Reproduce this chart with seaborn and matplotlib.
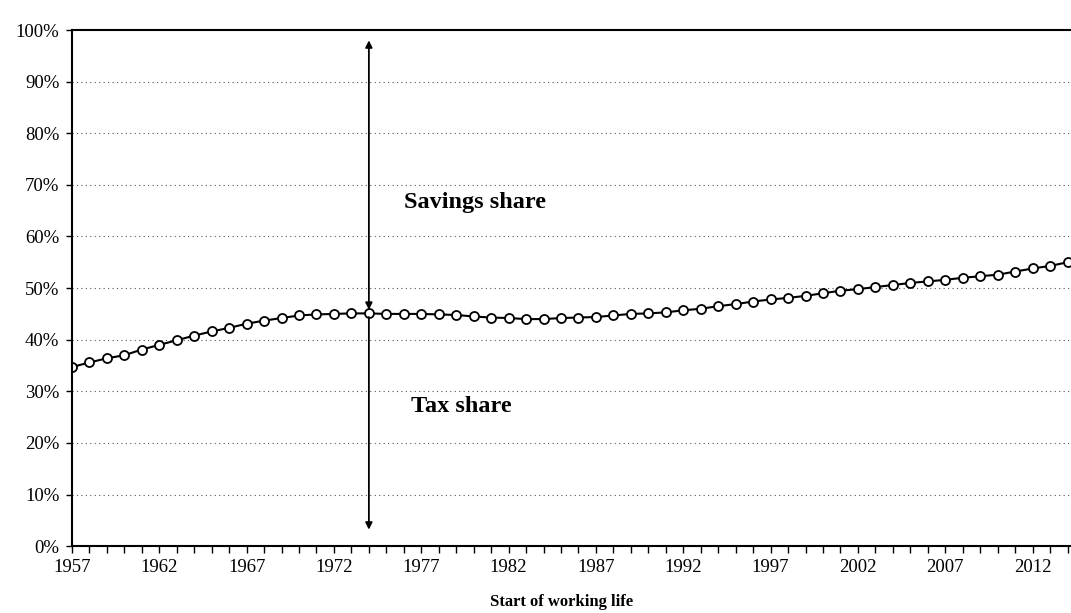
import matplotlib.pyplot as plt
import numpy as np
import pandas as pd
import seaborn as sns

years = list(range(1957, 2015))
tax_share = [
    34.7, 35.6, 36.4, 37.0, 38.1, 39.0, 39.9, 40.8, 41.6, 42.3,
    43.1, 43.7, 44.2, 44.7, 44.9, 45.0, 45.1, 45.1, 45.0, 45.0,
    45.0, 44.9, 44.8, 44.5, 44.3, 44.2, 44.0, 44.0, 44.2, 44.3,
    44.4, 44.7, 45.0, 45.1, 45.3, 45.7, 46.0, 46.5, 46.9, 47.4,
    47.8, 48.1, 48.5, 49.0, 49.5, 49.8, 50.2, 50.6, 51.0, 51.3,
    51.6, 52.0, 52.3, 52.6, 53.2, 53.8, 54.3, 55.0,
]
y_ticks = list(range(0, 101, 10))
x_tick_years = list(range(1957, 2015, 5))

df = pd.DataFrame({"year": years, "share": tax_share})

sns.set_style("white")
plt.rcParams["font.family"] = ["Liberation Serif", "DejaVu Serif"]
plt.rcParams["text.color"] = "black"
plt.rcParams["axes.labelcolor"] = "black"

fig = plt.figure(figsize=(10.71, 6.13), dpi=100)
ax = fig.add_axes([0.0672, 0.109, 0.9328, 0.842])

sns.lineplot(data=df, x="year", y="share", ax=ax, color="black", linewidth=1.5,
             marker="o", markersize=6.5, markerfacecolor="white",
             markeredgecolor="black", markeredgewidth=1.3)

ax.set_xlim(1957, 2014.2)
ax.set_ylim(0, 100)
ax.set_yticks(y_ticks)
ax.set_yticklabels([f"{v}%" for v in y_ticks])
ax.set_xticks(x_tick_years)
ax.set_xticks(years, minor=True)
ax.tick_params(axis="x", which="both", direction="out", length=5, width=1,
               colors="black", labelsize=13.5, pad=4, bottom=True)
ax.tick_params(axis="y", which="major", direction="out", length=4, width=1,
               colors="black", labelsize=13.5, pad=5, left=True)
for v in y_ticks[1:-1]:
    ax.axhline(v, color="#555555", linewidth=0.8, linestyle=(0, (1, 3)), zorder=0)

for side in ["left", "bottom", "top"]:
    ax.spines[side].set_color("black")
    ax.spines[side].set_linewidth(1.5)
ax.spines["right"].set_visible(False)

arrow_year = 1974
ax.annotate("", xy=(arrow_year, 98), xytext=(arrow_year, 45.8),
            arrowprops=dict(arrowstyle="<|-|>", color="black", lw=1.3,
                            mutation_scale=10, shrinkA=0, shrinkB=0))
ax.annotate("", xy=(arrow_year, 3.2), xytext=(arrow_year, 44.4),
            arrowprops=dict(arrowstyle="-|>", color="black", lw=1.3,
                            mutation_scale=10, shrinkA=0, shrinkB=0))

ax.text(1976.0, 66.5, "Savings share", fontsize=17.5, fontweight="bold",
        va="center", ha="left")
ax.text(1976.4, 27.0, "Tax share", fontsize=17.5, fontweight="bold",
        va="center", ha="left")

ax.set_xlabel("Start of working life", fontsize=12, fontweight="bold")
ax.xaxis.set_label_coords(0.49, -0.092)
ax.set_ylabel("")

fig.savefig("out.png", dpi=100)
plt.close(fig)
